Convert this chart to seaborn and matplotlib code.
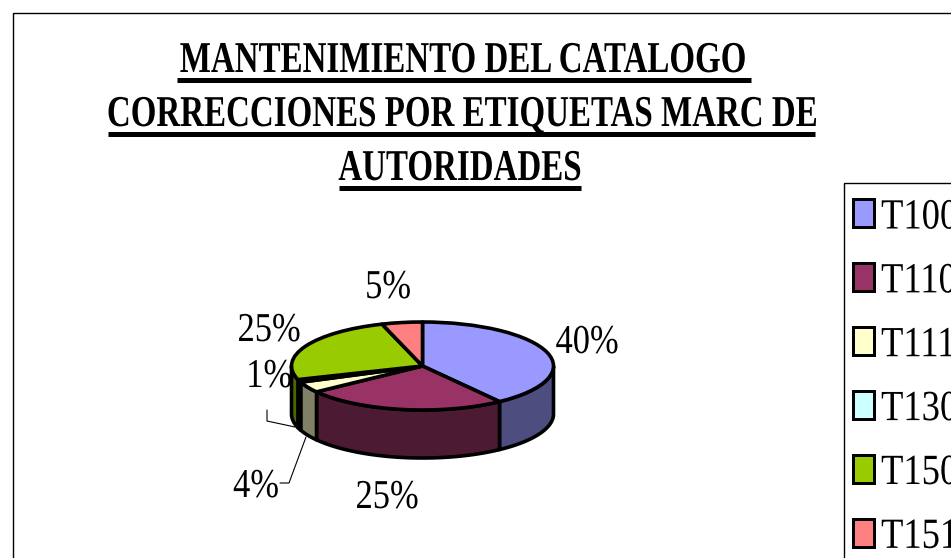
import numpy as np
import matplotlib
matplotlib.use("Agg")
import matplotlib.pyplot as plt
import matplotlib.patheffects as pe
from matplotlib.patches import Rectangle
from matplotlib.transforms import Affine2D
import seaborn as sns

# Data
labels = ["T100", "T110", "T111", "T130", "T150", "T151"]
values = [40, 25, 4, 1, 25, 5]
title_lines = ["MANTENIMIENTO DEL CATALOGO",
               "CORRECCIONES POR ETIQUETAS MARC DE",
               "AUTORIDADES"]
hex_colors = ["#9999FF", "#993366", "#FFFFCC", "#CCFFFF", "#99CC00", "#FF8080"]

sns.set_theme(style="white")
plt.rcParams["font.family"] = ["Liberation Serif", "DejaVu Serif"]
palette = sns.color_palette(hex_colors)
side_colors = [tuple(c * 0.5 for c in col) for col in palette]

W, H = 951, 558
PT = 72 / 100  # px -> pt at dpi 100


class SqueezeX(pe.AbstractPathEffect):
    # squeeze text horizontally, the source font is set very tight
    def __init__(self, k, anchor="center"):
        super().__init__()
        self.k = k
        self.anchor = anchor

    def draw_path(self, renderer, gc, tpath, affine, rgbFace=None):
        box = tpath.get_extents(affine)
        cx = box.x0 if self.anchor == "left" else (box.x0 + box.x1) / 2
        squeeze = Affine2D().translate(-cx, 0).scale(self.k, 1).translate(cx, 0)
        renderer.draw_path(gc, tpath, affine + squeeze, rgbFace)


fig = plt.figure(figsize=(W / 100, H / 100), dpi=100, facecolor="white")

# overlay in pixel coordinates for frame, title and labels
over = fig.add_axes([0, 0, 1, 1], zorder=5)
over.set_xlim(0, W)
over.set_ylim(H, 0)
over.axis("off")
over.add_patch(Rectangle((12.5, 12.5), W, H, fill=False, edgecolor="black", lw=1))

# title
title_y = [72, 126, 180]
title_x = [463, 462, 460]
under_x = [(177, 751), (108, 815), (339, 581)]
under_y = [79.5, 133.5, 187.5]
for line, x, y, ux, uy in zip(title_lines, title_x, title_y, under_x, under_y):
    over.text(x, y, line, fontsize=44 * PT, fontweight="bold", ha="center",
              va="baseline", color="black", path_effects=[SqueezeX(0.75)])
    over.hlines(uy, ux[0], ux[1], color="black", lw=5 * PT)

# pie
rx, ry, depth = 131, 44, 48
cx, cy = 422.5, 366
pie_ax = fig.add_axes([(cx - rx) / W, 1 - (cy + ry + depth) / H,
                       2 * rx / W, (2 * ry + depth) / H])
wedges, _ = pie_ax.pie(values, colors=palette, startangle=90, counterclock=False,
                       wedgeprops={"edgecolor": "black", "linewidth": 3 * PT * 1.2})
pie_ax.set_aspect("auto")
pie_ax.set_xlim(-1, 1)
d = depth / ry
pie_ax.set_ylim(-1 - d, 1)
for w in wedges:
    w.set_zorder(3)
    w.set_clip_on(False)
    w.set_joinstyle("round")

# side wall of the pie, front half only
ends = 90 - 3.6 * np.cumsum(values)
starts = np.r_[90, ends[:-1]]
for a0, a1, col in zip(starts, ends, side_colors):
    hi, lo = min(a0, 0), max(a1, -180)
    if hi <= lo:
        continue
    t = np.radians(np.linspace(hi, lo, 60))
    xs = np.cos(t)
    ys = np.sin(t)
    pie_ax.fill(np.r_[xs, xs[::-1]], np.r_[ys, ys[::-1] - d], facecolor=col,
                edgecolor="black", lw=3 * PT * 1.2, zorder=2, clip_on=False,
                joinstyle="round")

# percentage labels
label_pos = [(587, 353), (387, 508), (256, 497), (269, 387), (269, 341), (388, 298)]
for v, (x, y) in zip(values, label_pos):
    over.text(x, y, f"{v}%", fontsize=41 * PT, ha="center", va="baseline", color="black",
              path_effects=[SqueezeX(0.84)], zorder=5)

# leader lines
over.plot([267, 267, 295], [410, 421, 427], color="black", lw=0.8)
over.plot([280, 289, 306], [483, 483, 437], color="black", lw=0.8)

# legend runs off the figure on the right and bottom
over.add_patch(Rectangle((843.5, 182.5), W, H, fill=False, edgecolor="black", lw=1))
leg = fig.legend(wedges, labels, loc="upper left",
                 bbox_to_anchor=(853 / W, 1 - 199 / H), bbox_transform=fig.transFigure,
                 fontsize=43 * PT, frameon=False, labelcolor="black",
                 borderaxespad=0, borderpad=0, handlelength=0.49,
                 handleheight=0.63, handletextpad=0.16, labelspacing=0.59)
for t in leg.get_texts():
    t.set_path_effects([SqueezeX(0.85, "left")])
for h in leg.get_patches():
    h.set_linewidth(3 * PT)

fig.savefig("out.png", dpi=100)
